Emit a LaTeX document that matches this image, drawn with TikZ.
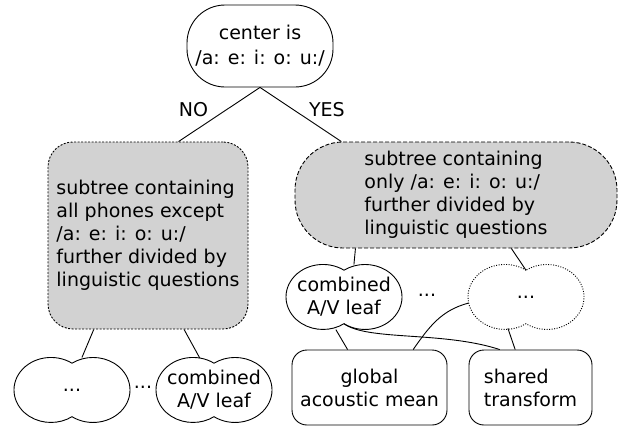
\documentclass[tikz,border=0pt]{standalone}
\usepackage{fontspec}
\setmainfont{DejaVu Sans}
\usetikzlibrary{shapes.geometric,calc}
\tikzset{every node/.style={font=\fontsize{19}{23}\selectfont}}
\newcommand{\peanut}[2]{%
        \draw[#2] ($(#1)+(0,26.8)$) arc[start angle=55.4,end angle=304.6,x radius=37,y radius=32.5]
            arc[start angle=235.4,end angle=484.6,x radius=37,y radius=32.5] -- cycle;
        \coordinate (#1-n) at ($(#1)+(0,26.8)$);
        \coordinate (#1-s) at ($(#1)+(0,-26.8)$);}

\begin{document}
\begin{tikzpicture}[x=1pt,y=1pt,line width=0.9pt,
        question/.style={draw,rounded corners=38pt,minimum width=146pt,minimum height=82pt,align=center,
            font=\fontsize{19}{25}\selectfont},
        subtree/.style={draw,fill=gray!35,align=left},
        leaf/.style={ellipse,minimum width=116pt,minimum height=65pt,inner sep=0pt,inner xsep=-20pt,align=center},
        param/.style={draw,rounded corners=15pt,minimum height=75pt},
        answer/.style={inner sep=2pt}]
        \useasboundingbox (0,0) rectangle (623,-426);
        \node[question] (root) at (260,-46) {center is\\/a: e: i: o: u:/};
        \node[subtree,rounded corners=25pt,minimum width=200pt,minimum height=187pt,dash pattern=on 2pt off 1.5pt]
            (nobox) at (148,-235.5) {subtree containing\\all phones except\\/a: e: i: o: u:/\\further divided by\\linguistic questions};
        \node[subtree,rounded corners=48pt,minimum width=322pt,minimum height=106pt,dash pattern=on 4pt off 2pt]
            (yesbox) at (456,-195) {subtree containing\\only /a: e: i: o: u:/\\further divided by\\linguistic questions};
        \node[leaf] (l1) at (72,-390) {...};
        \node[leaf] (l2) at (214,-390) {combined\\A/V leaf};
        \node[leaf] (r1) at (344,-297) {combined\\A/V leaf};
        \node[leaf] (r2) at (526,-297) {...};
        \peanut{l1}{}
        \peanut{l2}{}
        \peanut{r1}{}
        \peanut{r2}{dash pattern=on 1pt off 1.5pt}
        \node (ldots) at (143,-387) {...};
        \node (rdots) at (427,-295) {...};
        \node[param,align=center,minimum width=155pt] (mean) at (369.5,-387.5) {global\\acoustic mean};
        \node[param,align=left,minimum width=123pt] (trans) at (530.5,-387.5) {shared\\transform};
        \draw (root.south) -- node[answer,pos=0.4,left=17pt]{NO} (nobox.72);
        \draw (root.south) -- node[answer,pos=0.4,right=14pt]{YES} (yesbox.155.8);
        \draw (nobox.240) -- (l1.73);
        \draw (nobox.291.6) -- (l2.114);
        \draw (yesbox.208.9) -- (r1.73);
        \draw (yesbox.316.6) -- (r2-n);
        \draw (r1.256) -- (mean.120);
        \draw (r1-s) .. controls +(-35:30) and +(162:60) .. (trans.129);
        \draw (r2.186) to[out=195,in=55] (mean.41);
        \draw (r2.240) -- (trans.112);
\end{tikzpicture}
\end{document}
